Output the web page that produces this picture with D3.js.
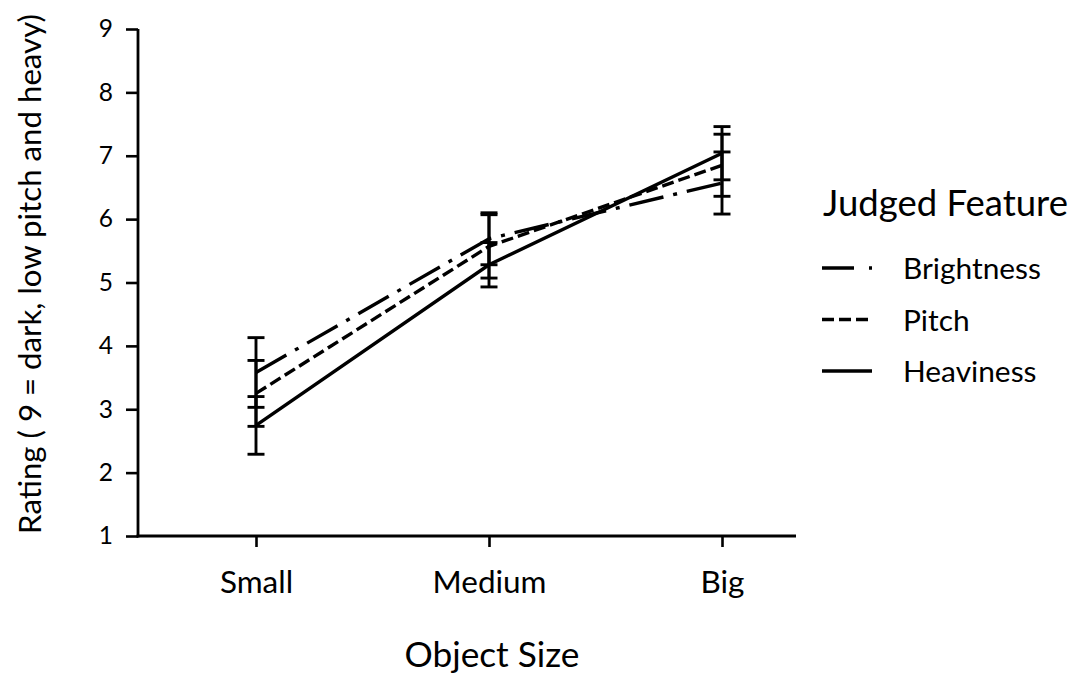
<!DOCTYPE html>
<html>
<head>
<meta charset="utf-8">
<script src="https://cdn.jsdelivr.net/npm/d3@7"></script>
<style>
  html, body { margin: 0; padding: 0; background: #fff; }
  svg { display: block; font-family: Lato, "Open Sans", sans-serif; }
</style>
</head>
<body>
<svg id="chart" width="1074" height="677"></svg>
<script>
// ---- data ----
const categories = ["Small", "Medium", "Big"];
const brightness = [3.58, 5.69, 6.57];
const brightnessErr = [0.55, 0.41, 0.49];
const pitch = [3.25, 5.57, 6.85];
const pitchErr = [0.52, 0.50, 0.49];
const heaviness = [2.745, 5.28, 7.04];
const heavinessErr = [0.455, 0.35, 0.42];
const yTicks = [1, 2, 3, 4, 5, 6, 7, 8, 9];
const seriesNames = ["Brightness", "Pitch", "Heaviness"];
const xTitle = "Object Size";
const yTitle = "Rating ( 9 = dark, low pitch and heavy)";
const legendTitle = "Judged Feature";

// ---- layout / style ----
const svg = d3.select("#chart");
const axisY0 = 536, axisX0 = 138, axisXEnd = 796;
const x = d3.scalePoint().domain(categories).range([256, 722]);
const y = d3.scaleLinear().domain([1, 9]).range([536, 29]);

const dashes = {
  Brightness: "35,10,4,10",
  Pitch: "12,5",
  Heaviness: null
};

const series = [
  { name: "Brightness", values: brightness, err: brightnessErr },
  { name: "Pitch", values: pitch, err: pitchErr },
  { name: "Heaviness", values: heaviness, err: heavinessErr }
];

function fitFont(sel, targetWidth) {
  const node = sel.node();
  const fs = parseFloat(sel.attr("font-size"));
  const w = node.getComputedTextLength();
  const nfs = fs * targetWidth / w;
  sel.attr("font-size", nfs);
  return nfs;
}

// y axis
const gy = svg.append("g")
  .attr("transform", `translate(${axisX0},0)`)
  .call(d3.axisLeft(y).tickValues(yTicks).tickFormat(d3.format("d")).tickSize(12).tickPadding(13));
gy.select(".domain").remove();
gy.selectAll(".tick line").attr("stroke", "#000").attr("stroke-width", 2.6);
gy.selectAll(".tick text").attr("font-size", 24.5).attr("fill", "#000")
  .attr("font-family", "Lato, sans-serif");
gy.append("line").attr("x1", 0).attr("x2", 0).attr("y1", y(9)).attr("y2", y(1) + 1.4)
  .attr("stroke", "#000").attr("stroke-width", 2.8);

// x axis
const gx = svg.append("g")
  .attr("transform", `translate(0,${axisY0})`)
  .call(d3.axisBottom(x).tickSize(11).tickPadding(0));
gx.select(".domain").remove();
gx.selectAll(".tick line").attr("stroke", "#000").attr("stroke-width", 2.6);
const xt = gx.selectAll(".tick text").attr("fill", "#000").attr("font-size", 29)
  .attr("font-family", "Lato, sans-serif").attr("y", 57).attr("dy", 0);
gx.append("line").attr("x1", axisX0 - 1.4).attr("x2", axisXEnd).attr("y1", 0).attr("y2", 0)
  .attr("stroke", "#000").attr("stroke-width", 2.8);
const medTick = xt.filter(d => d === "Medium");
const xfs = fitFont(medTick, 114);
xt.attr("font-size", xfs);

// lines
const line = d3.line().x((d, i) => x(categories[i])).y(d => y(d));
svg.append("g").selectAll("path").data(series).join("path")
  .attr("d", s => line(s.values))
  .attr("fill", "none")
  .attr("stroke", "#000")
  .attr("stroke-width", 3.4)
  .attr("stroke-dasharray", s => dashes[s.name]);

// error bars
const eb = svg.append("g");
const capW = 8.5;
series.forEach(s => {
  s.values.forEach((v, i) => {
    const cx = x(categories[i]);
    const lo = y(v - s.err[i]), hi = y(v + s.err[i]);
    eb.append("line").attr("x1", cx).attr("x2", cx).attr("y1", lo).attr("y2", hi)
      .attr("stroke", "#000").attr("stroke-width", 2.9);
    [lo, hi].forEach(yy => {
      eb.append("line").attr("x1", cx - capW).attr("x2", cx + capW).attr("y1", yy).attr("y2", yy)
        .attr("stroke", "#000").attr("stroke-width", 2.9);
    });
  });
});

// axis titles
const yt = svg.append("text")
  .attr("transform", "translate(41,274) rotate(-90)")
  .attr("text-anchor", "middle").attr("font-size", 30).attr("fill", "#000")
  .text(yTitle);
fitFont(yt, 520);

const xtt = svg.append("text")
  .attr("x", 492).attr("y", 667).attr("text-anchor", "middle")
  .attr("font-size", 32).attr("fill", "#000")
  .text(xTitle);
fitFont(xtt, 175);

// legend
const lt = svg.append("text").attr("x", 823).attr("y", 216)
  .attr("font-size", 32).attr("fill", "#000").text(legendTitle);
fitFont(lt, 245);

const legendY = d3.scalePoint().domain(seriesNames).range([268, 371]);
const lg = svg.append("g").selectAll("g").data(series).join("g")
  .attr("transform", s => `translate(822,${legendY(s.name)})`);
lg.append("line").attr("x1", 0).attr("x2", 50).attr("y1", 0).attr("y2", 0)
  .attr("stroke", "#000").attr("stroke-width", 3.4)
  .attr("stroke-dasharray", s => s.name === "Brightness" ? "32,15,4,20" : dashes[s.name]);
const ltx = lg.append("text").attr("x", 81).attr("y", 11)
  .attr("font-size", 28).attr("fill", "#000").text(s => s.name);
const lfs = fitFont(ltx.filter(s => s.name === "Brightness"), 138);
ltx.attr("font-size", lfs);
</script>
</body>
</html>
